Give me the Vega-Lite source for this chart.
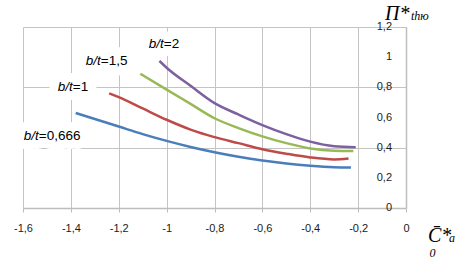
{
  "$schema": "https://vega.github.io/schema/vega-lite/v6.json",
  "width": 383,
  "height": 181,
  "autosize": {"type": "none"},
  "padding": {"left": 23, "top": 27, "right": 58, "bottom": 50},
  "background": "white",
  "config": {
    "view": {"stroke": null},
    "font": "Liberation Sans",
    "locale": {"number": {"decimal": ",", "thousands": " ", "grouping": [3], "currency": ["", ""], "minus": "-"}},
    "axis": {"labelOverlap": false, "labelFlush": false}
  },
  "datasets": {
    "curves": [
      {"bt": "0,666", "x": -1.38, "y": 0.63},
      {"bt": "0,666", "x": -1.3, "y": 0.59},
      {"bt": "0,666", "x": -1.2, "y": 0.54},
      {"bt": "0,666", "x": -1.1, "y": 0.49},
      {"bt": "0,666", "x": -1.0, "y": 0.445},
      {"bt": "0,666", "x": -0.9, "y": 0.405},
      {"bt": "0,666", "x": -0.8, "y": 0.37},
      {"bt": "0,666", "x": -0.7, "y": 0.34},
      {"bt": "0,666", "x": -0.6, "y": 0.315},
      {"bt": "0,666", "x": -0.5, "y": 0.295},
      {"bt": "0,666", "x": -0.4, "y": 0.28},
      {"bt": "0,666", "x": -0.3, "y": 0.27},
      {"bt": "0,666", "x": -0.23, "y": 0.268},
      {"bt": "1", "x": -1.24, "y": 0.76},
      {"bt": "1", "x": -1.2, "y": 0.735},
      {"bt": "1", "x": -1.1, "y": 0.66},
      {"bt": "1", "x": -1.0, "y": 0.585},
      {"bt": "1", "x": -0.9, "y": 0.52},
      {"bt": "1", "x": -0.8, "y": 0.47},
      {"bt": "1", "x": -0.7, "y": 0.43},
      {"bt": "1", "x": -0.6, "y": 0.39},
      {"bt": "1", "x": -0.5, "y": 0.36},
      {"bt": "1", "x": -0.4, "y": 0.335},
      {"bt": "1", "x": -0.3, "y": 0.322},
      {"bt": "1", "x": -0.24, "y": 0.328},
      {"bt": "1,5", "x": -1.11, "y": 0.89},
      {"bt": "1,5", "x": -1.0, "y": 0.785},
      {"bt": "1,5", "x": -0.9, "y": 0.69},
      {"bt": "1,5", "x": -0.8, "y": 0.595},
      {"bt": "1,5", "x": -0.7, "y": 0.53},
      {"bt": "1,5", "x": -0.6, "y": 0.475},
      {"bt": "1,5", "x": -0.5, "y": 0.43},
      {"bt": "1,5", "x": -0.4, "y": 0.395},
      {"bt": "1,5", "x": -0.3, "y": 0.38},
      {"bt": "1,5", "x": -0.22, "y": 0.378},
      {"bt": "2", "x": -1.03, "y": 0.975},
      {"bt": "2", "x": -1.0, "y": 0.93},
      {"bt": "2", "x": -0.9, "y": 0.81},
      {"bt": "2", "x": -0.8, "y": 0.695},
      {"bt": "2", "x": -0.7, "y": 0.62},
      {"bt": "2", "x": -0.6, "y": 0.55},
      {"bt": "2", "x": -0.5, "y": 0.49},
      {"bt": "2", "x": -0.4, "y": 0.44},
      {"bt": "2", "x": -0.3, "y": 0.41},
      {"bt": "2", "x": -0.21, "y": 0.403}
    ],
    "labels": [
      {"prefix": "b/t", "suffix": "=0,666", "x": -1.534, "y": 0.476},
      {"prefix": "b/t", "suffix": "=1", "x": -1.392, "y": 0.799},
      {"prefix": "b/t", "suffix": "=1,5", "x": -1.275, "y": 0.976},
      {"prefix": "b/t", "suffix": "=2", "x": -1.012, "y": 1.087}
    ],
    "yTicks": [
      {"y": 0}, {"y": 0.2}, {"y": 0.4}, {"y": 0.6}, {"y": 0.8}, {"y": 1.0}, {"y": 1.2}
    ],
    "bigTitles": [
      {"text": "П*", "x": -0.088, "y": 1.248},
      {"text": "C̄*", "x": 0.0916, "y": -0.226}
    ],
    "subTitles": [
      {"text": "thю", "x": 0.021, "y": 1.248},
      {"text": "a", "x": 0.18, "y": -0.226},
      {"text": "0", "x": 0.098, "y": -0.322}
    ]
  },
  "layer": [
    {
      "data": {"name": "labels"},
      "mark": {"type": "text", "align": "right", "baseline": "middle", "font": "Liberation Sans", "fontStyle": "italic", "fontSize": 13.5, "stroke": "white", "strokeWidth": 18, "strokeJoin": "round", "fill": "white"},
      "encoding": {
        "x": {"field": "x", "type": "quantitative", "scale": {"domain": [-1.6, 0], "nice": false, "zero": false}},
        "y": {"field": "y", "type": "quantitative", "scale": {"domain": [0, 1.2], "nice": false}},
        "text": {"field": "prefix"}
      }
    },
    {
      "data": {"name": "labels"},
      "mark": {"type": "text", "align": "left", "baseline": "middle", "font": "Liberation Sans", "fontSize": 13.5, "stroke": "white", "strokeWidth": 18, "strokeJoin": "round", "fill": "white"},
      "encoding": {
        "x": {"field": "x", "type": "quantitative"},
        "y": {"field": "y", "type": "quantitative"},
        "text": {"field": "suffix"}
      }
    },
    {
      "data": {"name": "curves"},
      "mark": {"type": "line", "interpolate": "monotone", "strokeWidth": 2.5},
      "encoding": {
        "x": {
          "field": "x", "type": "quantitative",
          "scale": {"domain": [-1.6, 0], "nice": false, "zero": false},
          "axis": {
            "orient": "bottom", "title": null,
            "values": [-1.6, -1.4, -1.2, -1.0, -0.8, -0.6, -0.4, -0.2, 0],
            "format": "~g",
            "labelOverlap": false, "labelFlush": false,
            "grid": true, "gridColor": "#C4C4C4", "gridWidth": 1,
            "domain": true, "domainColor": "#BDBDBD", "domainWidth": 1.5,
            "ticks": true, "tickColor": "#BDBDBD", "tickSize": 4,
            "labelPadding": 10, "labelFont": "Liberation Sans", "labelFontSize": 11, "labelColor": "#1a1a1a",
            "labelBaseline": "top"
          }
        },
        "y": {
          "field": "y", "type": "quantitative",
          "scale": {"domain": [0, 1.2], "nice": false},
          "axis": {
            "orient": "right", "title": null,
            "values": [0, 0.2, 0.4, 0.6, 0.8, 1.0, 1.2],
            "labels": false,
            "grid": true, "gridColor": "#C4C4C4", "gridWidth": 1,
            "domain": true, "domainColor": "#BDBDBD", "domainWidth": 1.5,
            "ticks": false, "tickSize": 0
          }
        },
        "color": {
          "field": "bt", "type": "nominal",
          "scale": {"domain": ["0,666", "1", "1,5", "2"], "range": ["#4A7EBB", "#BE4B48", "#98B954", "#7D60A0"]},
          "legend": null
        },
        "order": {"field": "x", "type": "quantitative"}
      }
    },
    {
      "data": {"name": "yTicks"},
      "mark": {"type": "text", "align": "right", "baseline": "middle", "dx": -14, "font": "Liberation Sans", "fontSize": 11, "fill": "#1a1a1a"},
      "encoding": {
        "x": {"datum": 0, "type": "quantitative"},
        "y": {"field": "y", "type": "quantitative"},
        "text": {"field": "y", "type": "quantitative", "format": "~g"}
      }
    },
    {
      "data": {"name": "labels"},
      "mark": {"type": "text", "align": "right", "baseline": "middle", "font": "Liberation Sans", "fontStyle": "italic", "fontSize": 13.5, "fill": "#000000"},
      "encoding": {
        "x": {"field": "x", "type": "quantitative"},
        "y": {"field": "y", "type": "quantitative"},
        "text": {"field": "prefix"}
      }
    },
    {
      "data": {"name": "labels"},
      "mark": {"type": "text", "align": "left", "baseline": "middle", "font": "Liberation Sans", "fontSize": 13.5, "fill": "#000000"},
      "encoding": {
        "x": {"field": "x", "type": "quantitative"},
        "y": {"field": "y", "type": "quantitative"},
        "text": {"field": "suffix"}
      }
    },
    {
      "data": {"name": "bigTitles"},
      "mark": {"type": "text", "align": "left", "baseline": "alphabetic", "font": "Liberation Serif", "fontStyle": "italic", "fontSize": 20, "fill": "#000000"},
      "encoding": {
        "x": {"field": "x", "type": "quantitative"},
        "y": {"field": "y", "type": "quantitative"},
        "text": {"field": "text"}
      }
    },
    {
      "data": {"name": "subTitles"},
      "mark": {"type": "text", "align": "left", "baseline": "alphabetic", "font": "Liberation Serif", "fontStyle": "italic", "fontSize": 12, "fill": "#000000"},
      "encoding": {
        "x": {"field": "x", "type": "quantitative"},
        "y": {"field": "y", "type": "quantitative"},
        "text": {"field": "text"}
      }
    }
  ]
}
